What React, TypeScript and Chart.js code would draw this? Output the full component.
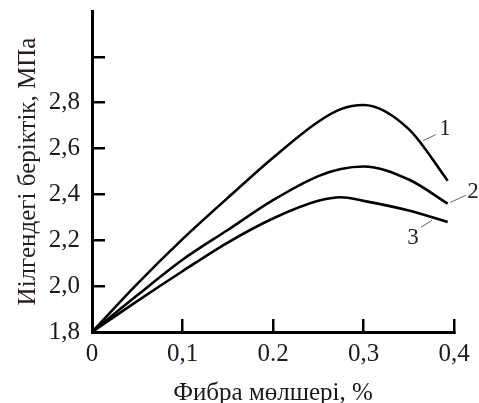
import React, { useEffect, useRef } from "react";
import { Chart, registerables } from "chart.js";

Chart.register(...registerables);

const xValues = [0, 0.05, 0.1, 0.15, 0.2, 0.25, 0.275, 0.3, 0.35, 0.393];
const curve1 = [1.8, 2.01, 2.205, 2.385, 2.56, 2.717, 2.772, 2.79, 2.685, 2.46];
const curve2 = [1.8, 1.96, 2.115, 2.245, 2.375, 2.48, 2.511, 2.522, 2.465, 2.36];
const curve3 = [1.8, 1.935, 2.065, 2.19, 2.295, 2.372, 2.388, 2.372, 2.33, 2.28];
const seriesNames = ["1", "2", "3"];

const xTicks = [0, 0.1, 0.2, 0.3, 0.4];
const xTickLabels = ["0", "0,1", "0.2", "0,3", "0,4"];
const yTicks = [1.8, 2.0, 2.2, 2.4, 2.6, 2.8, 3.0];
const yTickLabels = ["1,8", "2,0", "2,2", "2,4", "2,6", "2,8", ""];

const xTitle = "Фибра мөлшері, %";
const yTitle = "Иілгендегі беріктік, МПа";

// curve label annotations in data units: [labelX, labelY, leaderX1, leaderY1, leaderX2, leaderY2]
const labelAnchors = [
  [0.39, 2.687, 0.366, 2.635, 0.38, 2.661],
  [0.421, 2.409, 0.3956, 2.365, 0.413, 2.396],
  [0.3547, 2.209, 0.3635, 2.257, 0.3757, 2.287],
];

const FONT = "'Liberation Serif', 'Times New Roman', serif";

const curveLabels = {
  id: "curveLabels",
  afterDatasetsDraw(chart: any) {
    const { ctx, scales } = chart;
    const xs = scales.x;
    const ys = scales.y;
    ctx.save();
    labelAnchors.forEach((a, i) => {
      ctx.strokeStyle = "#666";
      ctx.lineWidth = 1;
      ctx.beginPath();
      ctx.moveTo(xs.getPixelForValue(a[2]), ys.getPixelForValue(a[3]));
      ctx.lineTo(xs.getPixelForValue(a[4]), ys.getPixelForValue(a[5]));
      ctx.stroke();
      ctx.fillStyle = "#2a1c1c";
      ctx.font = `23px ${FONT}`;
      ctx.textAlign = "center";
      ctx.textBaseline = "middle";
      ctx.fillText(seriesNames[i], xs.getPixelForValue(a[0]), ys.getPixelForValue(a[1]));
    });
    ctx.restore();
  },
};

export default function App() {
  const ref = useRef<HTMLCanvasElement | null>(null);
  useEffect(() => {
    document.body.style.margin = "0";
    const mk = (ys: number[]) => xValues.map((x, i) => ({ x, y: ys[i] }));
    const ds = [curve1, curve2, curve3].map((c, i) => ({
      label: seriesNames[i],
      data: mk(c),
      borderColor: "#000",
      borderWidth: 2.6,
      pointRadius: 0,
      fill: false,
      cubicInterpolationMode: "monotone" as const,
    }));
    const chart = new Chart(ref.current as HTMLCanvasElement, {
      type: "line",
      data: { datasets: ds },
      plugins: [curveLabels],
      options: {
        animation: false,
        responsive: false,
        events: [],
        layout: { padding: { top: 11, right: 25, left: 0, bottom: 0 } },
        plugins: { legend: { display: false }, tooltip: { enabled: false } },
        scales: {
          x: {
            type: "linear",
            min: 0,
            max: 0.4,
            afterBuildTicks: (s: any) => {
              s.ticks = xTicks.map((v) => ({ value: v }));
            },
            afterFit: (s: any) => {
              s.height = 71;
              s.paddingLeft = 0;
              s.paddingRight = 0;
              s.paddingTop = 0;
              s.paddingBottom = 0;
            },
            ticks: {
              autoSkip: false,
              maxRotation: 0,
              padding: 20,
              color: "#1a1a2a",
              font: { family: FONT, size: 25 },
              callback: (v: any) => {
                const i = xTicks.findIndex((t) => Math.abs(t - Number(v)) < 1e-6);
                return i >= 0 ? xTickLabels[i] : "";
              },
            },
            grid: {
              drawOnChartArea: false,
              drawTicks: true,
              tickLength: -13,
              color: "#000",
              lineWidth: 2.5,
            },
            border: { display: true, color: "#000", width: 3 },
            title: {
              display: true,
              text: xTitle,
              color: "#1a1a1a",
              font: { family: FONT, size: 25 },
              padding: { top: 0, bottom: -5 },
            },
          },
          y: {
            type: "linear",
            min: 1.8,
            max: 3.2,
            afterBuildTicks: (s: any) => {
              s.ticks = yTicks.map((v) => ({ value: v }));
            },
            afterFit: (s: any) => {
              s.width = 92;
              s.paddingLeft = 0;
              s.paddingRight = 0;
              s.paddingTop = 0;
              s.paddingBottom = 0;
            },
            ticks: {
              autoSkip: false,
              padding: 25,
              color: "#1a1a1a",
              font: { family: FONT, size: 25 },
              callback: (v: any) => {
                const i = yTicks.findIndex((t) => Math.abs(t - Number(v)) < 1e-6);
                return i >= 0 ? yTickLabels[i] : "";
              },
            },
            grid: {
              drawOnChartArea: false,
              drawTicks: true,
              tickLength: -13,
              color: "#000",
              lineWidth: 2.5,
            },
            border: { display: true, color: "#000", width: 3 },
            title: {
              display: true,
              text: yTitle,
              color: "#2a1c1c",
              font: { family: FONT, size: 25 },
              padding: { top: 13, bottom: 0 },
            },
          },
        },
      },
    });
    return () => chart.destroy();
  }, []);
  return (
    <div style={{ position: "absolute", left: 0, top: 0, width: 479, height: 403 }}>
      <canvas ref={ref} width={479} height={403} style={{ display: "block" }} />
    </div>
  );
}
